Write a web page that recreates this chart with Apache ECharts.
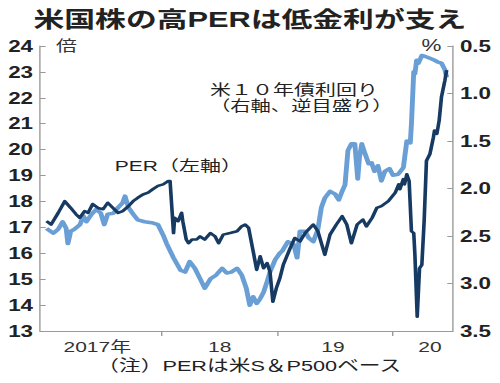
<!DOCTYPE html>
<html>
<head>
<meta charset="utf-8">
<script src="https://cdn.jsdelivr.net/npm/echarts@6/dist/echarts.min.js"></script>
<style>
html,body{margin:0;padding:0;background:#fff;overflow:hidden;}
#main{width:357.14px;height:383px;transform:scaleX(1.4);transform-origin:0 0;}
</style>
</head>
<body>
<div id="main"></div>
<script>
// PER (left axis), x = fractional year
const perYears = [2017.00,2017.04,2017.10,2017.158,2017.21,2017.255,2017.287,2017.33,2017.36,2017.40,2017.446,2017.49,2017.53,2017.576,2017.62,2017.66,2017.71,2017.75,2017.79,2017.835,2017.88,2017.92,2017.965,2018.01,2018.055,2018.07,2018.10,2018.11,2018.14,2018.17,2018.18,2018.21,2018.23,2018.26,2018.30,2018.33,2018.37,2018.42,2018.46,2018.49,2018.53,2018.59,2018.65,2018.69,2018.72,2018.75,2018.79,2018.82,2018.85,2018.88,2018.91,2018.935,2018.96,2018.99,2019.02,2019.05,2019.11,2019.15,2019.195,2019.24,2019.31,2019.35,2019.41,2019.455,2019.51,2019.56,2019.60,2019.64,2019.69,2019.74,2019.77,2019.82,2019.86,2019.90,2019.96,2020.02,2020.05,2020.06,2020.09,2020.10,2020.12,2020.14,2020.16,2020.18,2020.19,2020.21,2020.23,2020.25,2020.27,2020.29,2020.32,2020.35,2020.36,2020.38,2020.40,2020.42,2020.45,2020.465];
const perValues = [17.24,17.11,17.55,18.01,17.75,17.51,17.37,17.63,17.56,17.90,17.75,17.70,17.95,17.75,17.56,17.63,17.82,18.01,18.14,18.27,18.34,18.47,18.60,18.66,18.79,18.79,16.78,17.37,17.24,17.56,17.24,16.53,16.39,16.53,16.53,16.65,16.53,16.78,16.65,16.39,16.72,16.78,16.85,17.04,17.11,16.98,16.07,15.36,15.88,15.42,15.62,15.29,14.13,14.65,15.03,15.55,16.20,16.59,16.46,16.78,17.11,16.85,15.94,16.72,17.11,17.43,17.11,16.39,17.11,17.30,17.04,17.37,17.75,17.82,18.01,18.34,18.66,18.47,18.86,18.66,19.05,18.79,16.85,16.78,15.94,13.55,15.42,15.55,17.24,19.57,19.83,20.47,20.74,20.61,21.12,22.03,22.68,23.07];

// US 10-year yield (right axis, inverted), x = fractional year
const yieldYears = [2017.00,2017.06,2017.10,2017.14,2017.17,2017.185,2017.21,2017.24,2017.29,2017.32,2017.345,2017.39,2017.43,2017.47,2017.50,2017.53,2017.58,2017.62,2017.66,2017.68,2017.71,2017.75,2017.79,2017.85,2017.91,2017.965,2018.01,2018.04,2018.10,2018.16,2018.20,2018.24,2018.285,2018.33,2018.37,2018.42,2018.47,2018.52,2018.56,2018.60,2018.65,2018.69,2018.73,2018.76,2018.79,2018.82,2018.85,2018.88,2018.91,2018.935,2018.98,2019.02,2019.04,2019.09,2019.14,2019.17,2019.195,2019.24,2019.27,2019.31,2019.35,2019.38,2019.41,2019.455,2019.50,2019.53,2019.56,2019.585,2019.61,2019.64,2019.67,2019.695,2019.71,2019.73,2019.76,2019.79,2019.815,2019.84,2019.87,2019.90,2019.93,2019.97,2020.00,2020.045,2020.09,2020.12,2020.15,2020.16,2020.18,2020.19,2020.205,2020.22,2020.25,2020.28,2020.32,2020.36,2020.39,2020.42,2020.45,2020.465];
const yieldValues = [2.42,2.47,2.43,2.35,2.42,2.58,2.45,2.43,2.38,2.29,2.35,2.27,2.22,2.26,2.38,2.27,2.26,2.20,2.15,2.08,2.20,2.27,2.33,2.35,2.36,2.38,2.49,2.58,2.73,2.86,2.88,2.77,2.84,2.95,3.05,2.95,2.91,2.84,2.89,2.88,2.84,2.91,3.05,3.23,3.14,3.21,3.16,3.09,2.98,2.88,2.75,2.68,2.66,2.56,2.59,2.73,2.45,2.45,2.52,2.56,2.43,2.20,2.10,2.03,2.06,2.12,2.03,1.96,1.60,1.53,1.53,1.90,1.67,1.53,1.64,1.74,1.73,1.82,1.76,1.92,1.82,1.79,1.86,1.85,1.78,1.50,1.52,1.32,0.77,0.79,0.65,0.68,0.60,0.61,0.63,0.65,0.67,0.68,0.75,0.83];

const perTickMin = 13, perTickMax = 24, perTickStep = 1;
const yieldTickMin = 0.5, yieldTickMax = 3.5, yieldTickStep = 0.5;
const xTickYears = [2018, 2019, 2020];
const xLabelYears = [2017.44, 2018.5, 2019.48, 2020.32];
const xLabels = ['2017年', '18', '19', '20'];

const titleText = '米国株の高PERは低金利が支え';
const noteText = '（注）PERは米S＆P500ベース';
const perLabel = 'PER（左軸）';
const yieldLabel1 = '米１０年債利回り';
const yieldLabel2 = '（右軸、逆目盛り）';

const FONT = '"Liberation Sans", Arial, "Noto Sans CJK JP", sans-serif';
const DARK = '#163a62';
const LIGHT = '#6a9fd6';
const AXIS = '#9a9a9a';

const chart = echarts.init(document.getElementById('main'), null, {renderer: 'svg'});

const perData = perYears.map((x, i) => [x, perValues[i]]);
const yieldData = yieldYears.map((x, i) => [x, yieldValues[i]]);

chart.setOption({
  animation: false,
  backgroundColor: '#fff',
  textStyle: {fontFamily: FONT},
  title: {
    text: titleText,
    left: 'center',
    top: 4,
    textStyle: {fontSize: 22, fontWeight: 'bold', color: '#222', fontFamily: FONT}
  },
  grid: {left: 28.6, right: 33.5, top: 46, bottom: 52},
  xAxis: {
    type: 'value',
    min: 2016.944,
    max: 2020.519,
    splitLine: {show: false},
    axisLine: {show: true, lineStyle: {color: AXIS, width: 1}},
    axisTick: {show: true, customValues: xTickYears, length: 5, inside: false, lineStyle: {color: AXIS}},
    axisLabel: {
      customValues: xLabelYears,
      margin: 8,
      fontSize: 15,
      color: '#333',
      fontFamily: FONT,
      formatter: function (v) {
        let best = 0, d = Infinity;
        xLabelYears.forEach((y, i) => { if (Math.abs(y - v) < d) { d = Math.abs(y - v); best = i; } });
        return xLabels[best];
      }
    }
  },
  yAxis: [
    {
      type: 'value',
      min: perTickMin, max: perTickMax, interval: perTickStep,
      position: 'left',
      splitLine: {show: false},
      axisLine: {show: true, lineStyle: {color: AXIS}},
      axisTick: {show: true, inside: true, length: 4, lineStyle: {color: AXIS}},
      axisLabel: {margin: 5, fontSize: 16, fontWeight: 'bold', color: '#222', fontFamily: FONT}
    },
    {
      type: 'value',
      min: yieldTickMin, max: yieldTickMax, interval: yieldTickStep,
      inverse: true,
      position: 'right',
      splitLine: {show: false},
      axisLine: {show: true, lineStyle: {color: AXIS}},
      axisTick: {show: true, inside: true, length: 4, lineStyle: {color: AXIS}},
      axisLabel: {margin: 5, fontSize: 16, fontWeight: 'bold', color: '#222', fontFamily: FONT,
        formatter: v => v.toFixed(1)}
    }
  ],
  series: [
    {
      name: 'yield', type: 'line', yAxisIndex: 1, data: yieldData,
      showSymbol: false, symbol: 'none',
      lineStyle: {color: LIGHT, width: 3.5, join: 'round'}
    },
    {
      name: 'PER', type: 'line', yAxisIndex: 0, data: perData,
      showSymbol: false, symbol: 'none',
      lineStyle: {color: DARK, width: 2.6, join: 'round'}
    }
  ],
  graphic: [
    {type: 'text', left: 40, top: 38, style: {text: '倍', fontSize: 15, fill: '#333', fontFamily: FONT}},
    {type: 'text', left: 301, top: 37, style: {text: '%', fontSize: 16, fill: '#333', fontFamily: FONT}},
    {type: 'text', left: 82, top: 158, style: {text: perLabel, fontSize: 15, fill: '#222', fontFamily: FONT}},
    {type: 'text', left: 150, top: 82, style: {text: yieldLabel1, fontSize: 15, fill: '#222', fontFamily: FONT}},
    {type: 'text', left: 150, top: 99, style: {text: yieldLabel2, fontSize: 14.5, fill: '#222', fontFamily: FONT}},
    {type: 'text', left: 'center', top: 358, style: {text: noteText, fontSize: 15.5, fill: '#222', fontFamily: FONT}}
  ]
});
</script>
</body>
</html>
